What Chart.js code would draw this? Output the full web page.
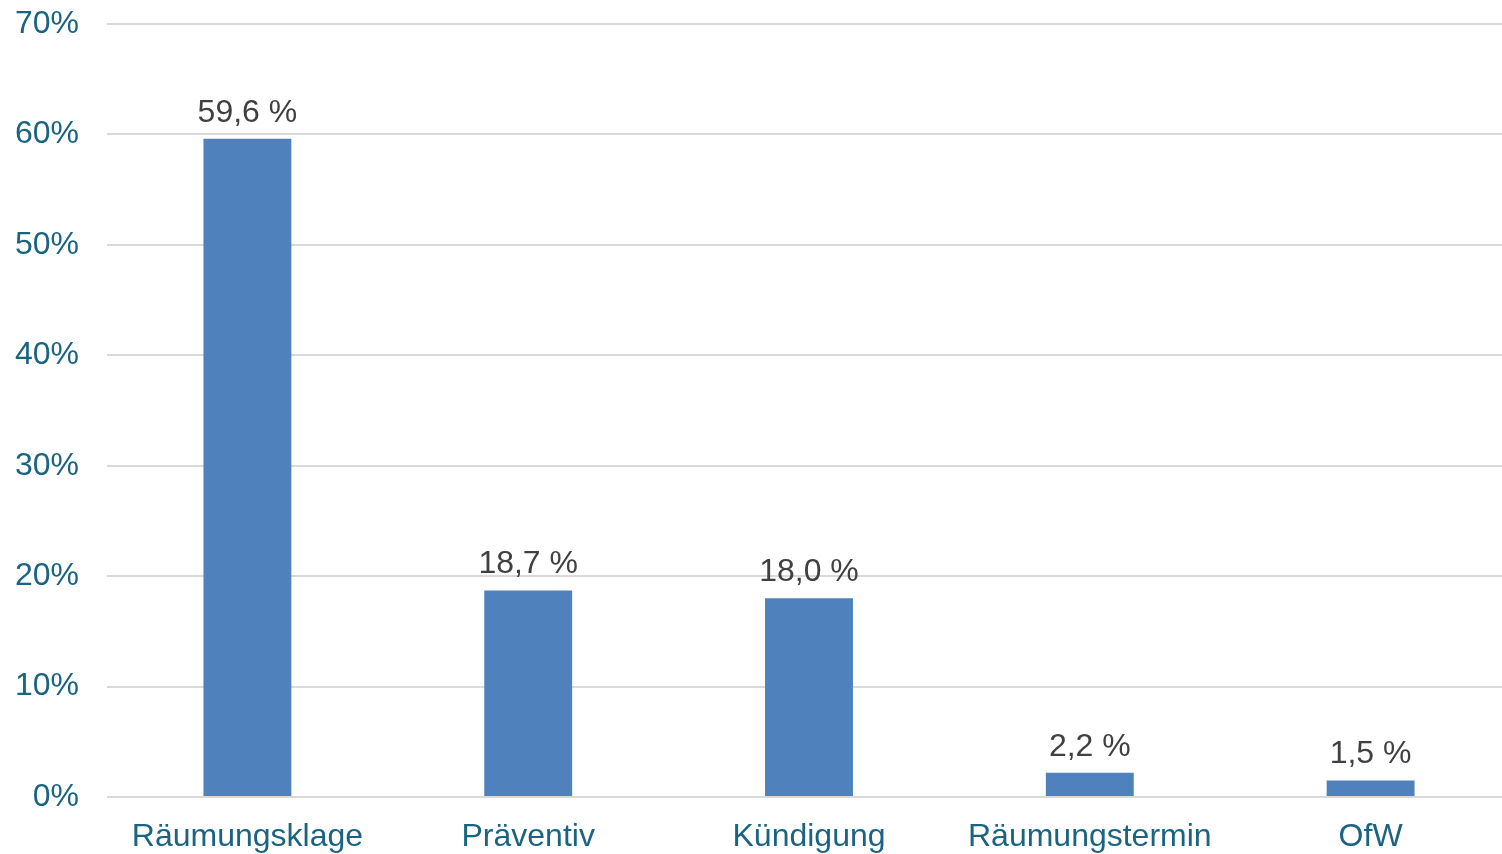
<!DOCTYPE html>
<html lang="de">
<head>
  <meta charset="UTF-8">
  <title>Anteile</title>
  <script src="https://cdn.jsdelivr.net/npm/chart.js"></script>
  <style>
    html, body { margin: 0; padding: 0; background: #fff; overflow: hidden; }
    #wrap { width: 1502px; height: 854px; overflow: hidden; }
  </style>
</head>
<body>
  <div id="wrap"><canvas id="chart" width="1511" height="854"></canvas></div>
  <script>
    // data
    const categories = ['Räumungsklage', 'Präventiv', 'Kündigung', 'Räumungstermin', 'OfW'];
    const shares = [59.6, 18.7, 18.0, 2.2, 1.5];
    const yTicks = [0, 10, 20, 30, 40, 50, 60, 70];

    const axisColor = '#1A6381';
    const font = 'Liberation Sans, Arial, sans-serif';

    // value labels above the bars
    const valueLabels = {
      id: 'valueLabels',
      afterDatasetsDraw(chart) {
        const ctx = chart.ctx;
        const meta = chart.getDatasetMeta(0);
        ctx.save();
        ctx.font = '32px ' + font;
        ctx.fillStyle = '#404040';
        ctx.textAlign = 'center';
        ctx.textBaseline = 'bottom';
        meta.data.forEach((bar, i) => {
          const txt = shares[i].toFixed(1).replace('.', ',') + ' %';
          ctx.fillText(txt, bar.x, bar.y - 10);
        });
        ctx.restore();
      }
    };

    new Chart(document.getElementById('chart'), {
      type: 'bar',
      data: {
        labels: categories,
        datasets: [{
          data: shares,
          backgroundColor: '#4F81BD',
          categoryPercentage: 1,
          barPercentage: 0.313
        }]
      },
      options: {
        responsive: false,
        animation: false,
        layout: { padding: { top: 24, right: 0, left: 0, bottom: 0 } },
        plugins: { legend: { display: false }, tooltip: { enabled: false } },
        scales: {
          x: {
            grid: { display: false },
            border: { display: false },
            ticks: { color: axisColor, font: { family: font, size: 32 }, padding: 13, maxRotation: 0 },
            afterFit(s) { s.height = 57; s.paddingLeft = 0; s.paddingRight = 0; }
          },
          y: {
            min: 0,
            max: 70,
            afterBuildTicks(s) { s.ticks = yTicks.map(v => ({ value: v })); },
            grid: { color: '#D9D9D9', lineWidth: 2, drawTicks: false },
            border: { display: false },
            ticks: {
              color: axisColor,
              font: { family: font, size: 32 },
              padding: 28,
              callback: v => v + '%'
            },
            afterFit(s) { s.width = 107; s.paddingTop = 0; s.paddingBottom = 0; }
          }
        }
      },
      plugins: [valueLabels]
    });
  </script>
</body>
</html>
